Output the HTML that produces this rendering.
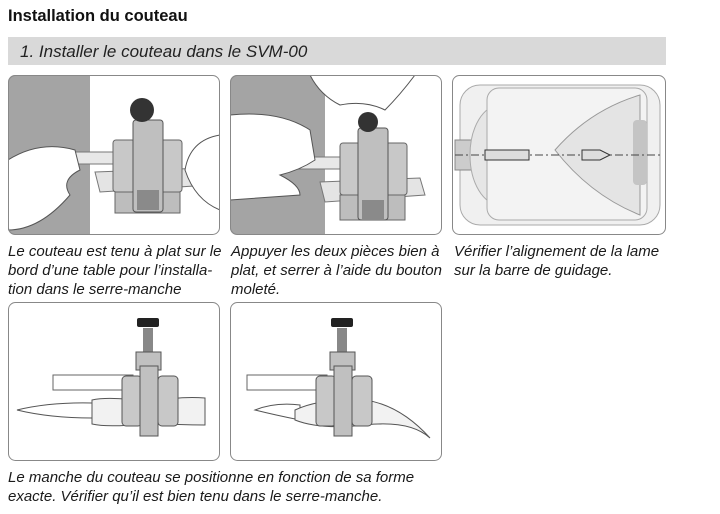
<!DOCTYPE html>
<html><head><meta charset="utf-8"><style>
html,body{margin:0;padding:0;background:#fff;width:720px;height:514px;overflow:hidden}
svg{display:block}
.t{font-family:"Liberation Sans",sans-serif}
.cap{font-family:"Liberation Sans",sans-serif;font-style:italic;font-size:15px;fill:#1a1a1a}
</style></head><body>
<svg width="720" height="514" viewBox="0 0 720 514">
<text x="8" y="21" class="t" font-size="16.5" font-weight="bold" fill="#111">Installation du couteau</text>
<rect x="8" y="37" width="658" height="28" fill="#d9d9d9"/>
<text x="20" y="57" class="t" font-size="17" font-style="italic" fill="#222">1. Installer le couteau dans le SVM-00</text>

<clipPath id="c1"><rect x="8" y="75" width="212" height="160" rx="7"/></clipPath>
<g clip-path="url(#c1)">
<rect x="8" y="75" width="212" height="160" fill="#fff"/>
<rect x="8" y="75" width="82" height="160" fill="#a4a4a4"/>
<rect x="75" y="152" width="40" height="12" fill="#e8e8e8" stroke="#777"/>
<path d="M95 172 L205 168 L210 185 L100 192 Z" fill="#e4e4e4" stroke="#777"/>
<rect x="115" y="185" width="65" height="28" fill="#bdbdbd" stroke="#666"/>
<rect x="113" y="140" width="22" height="52" rx="3" fill="#c8c8c8" stroke="#666"/>
<rect x="160" y="140" width="22" height="52" rx="3" fill="#c8c8c8" stroke="#666"/>
<rect x="133" y="120" width="30" height="92" rx="3" fill="#bfbfbf" stroke="#555"/>
<rect x="137" y="190" width="22" height="20" fill="#8a8a8a"/>
<circle cx="142" cy="110" r="12" fill="#333"/>
<path d="M8 160 Q40 140 75 150 L80 170 Q60 180 70 195 Q40 230 8 230 Z" fill="#fff" stroke="#555"/>
<path d="M220 135 Q190 140 185 170 Q195 200 220 210 Z" fill="#fff" stroke="#555"/>
</g>
<rect x="8.5" y="75.5" width="211" height="159" rx="7" fill="none" stroke="#888"/>

<clipPath id="c2"><rect x="230" y="75" width="212" height="160" rx="7"/></clipPath>
<g clip-path="url(#c2)">
<rect x="230" y="75" width="212" height="160" fill="#fff"/>
<rect x="230" y="75" width="95" height="160" fill="#a4a4a4"/>
<rect x="290" y="157" width="60" height="12" fill="#e8e8e8" stroke="#777"/>
<path d="M320 182 L420 178 L425 195 L325 202 Z" fill="#e4e4e4" stroke="#777"/>
<rect x="340" y="195" width="65" height="25" fill="#bdbdbd" stroke="#666"/>
<rect x="340" y="143" width="22" height="52" rx="3" fill="#c8c8c8" stroke="#666"/>
<rect x="385" y="143" width="22" height="52" rx="3" fill="#c8c8c8" stroke="#666"/>
<rect x="358" y="128" width="30" height="92" rx="3" fill="#bfbfbf" stroke="#555"/>
<rect x="362" y="200" width="22" height="20" fill="#8a8a8a"/>
<circle cx="368" cy="122" r="10" fill="#333"/>
<path d="M230 115 Q280 110 310 130 L315 160 Q300 170 280 175 Q300 185 300 195 L230 200 Z" fill="#fff" stroke="#555"/>
<path d="M310 75 Q320 95 340 105 Q365 100 385 110 Q400 95 415 75 Z" fill="#fff" stroke="#555"/>
</g>
<rect x="230.5" y="75.5" width="211" height="159" rx="7" fill="none" stroke="#888"/>

<clipPath id="c3"><rect x="452" y="75" width="214" height="160" rx="7"/></clipPath>
<g clip-path="url(#c3)">
<rect x="452" y="75" width="214" height="160" fill="#fff"/>
<rect x="460" y="85" width="200" height="140" rx="20" fill="#f0f0f0" stroke="#aaa"/>
<rect x="455" y="140" width="20" height="30" fill="#ccc" stroke="#888"/>
<ellipse cx="500" cy="155" rx="30" ry="50" fill="#e6e6e6" stroke="#aaa"/>
<rect x="487" y="88" width="160" height="132" rx="12" fill="#f3f3f3" stroke="#aaa"/>
<path d="M640 95 Q590 110 555 150 Q590 195 640 215 Z" fill="#e4e4e4" stroke="#999"/>
<rect x="633" y="120" width="14" height="65" rx="4" fill="#c4c4c4"/>
<line x1="455" y1="155" x2="660" y2="155" stroke="#444" stroke-dasharray="8 3 2 3"/>
<rect x="485" y="150" width="44" height="10" fill="#ddd" stroke="#333"/>
<path d="M582 150 L600 150 L610 155 L600 160 L582 160 Z" fill="#ddd" stroke="#333"/>
</g>
<rect x="452.5" y="75.5" width="213" height="159" rx="7" fill="none" stroke="#888"/>

<text class="cap"><tspan x="8" y="256">Le couteau est tenu à plat sur le</tspan><tspan x="8" y="275">bord d’une table pour l’installa-</tspan><tspan x="8" y="294">tion dans le serre-manche</tspan></text>
<text class="cap"><tspan x="231" y="256">Appuyer les deux pièces bien à</tspan><tspan x="231" y="275">plat, et serrer à l’aide du bouton</tspan><tspan x="231" y="294">moleté.</tspan></text>
<text class="cap"><tspan x="454" y="256">Vérifier l’alignement de la lame</tspan><tspan x="454" y="275">sur la barre de guidage.</tspan></text>

<rect x="8.5" y="302.5" width="211" height="158" rx="7" fill="#fff" stroke="#888"/>
<rect x="53" y="375" width="80" height="15" fill="#fff" stroke="#666"/>
<path d="M17 410 Q50 402 92 403 L92 418 Q50 418 17 410 Z" fill="#fff" stroke="#555"/>
<path d="M92 400 Q110 396 150 402 Q180 396 205 398 L205 425 Q180 425 150 423 Q110 428 92 424 Z" fill="#f2f2f2" stroke="#555"/>
<rect x="122" y="376" width="20" height="50" rx="4" fill="#c8c8c8" stroke="#555"/>
<rect x="158" y="376" width="20" height="50" rx="4" fill="#c8c8c8" stroke="#555"/>
<rect x="143" y="328" width="10" height="28" fill="#888"/>
<rect x="136" y="352" width="25" height="18" fill="#c0c0c0" stroke="#555"/>
<rect x="140" y="366" width="18" height="70" fill="#c0c0c0" stroke="#555"/>
<rect x="137" y="318" width="22" height="9" rx="2" fill="#222"/>

<rect x="230.5" y="302.5" width="211" height="158" rx="7" fill="#fff" stroke="#888"/>
<rect x="247" y="375" width="80" height="15" fill="#fff" stroke="#666"/>
<path d="M255 410 Q275 402 300 405 L300 420 Q275 415 255 410 Z" fill="#fff" stroke="#555"/>
<path d="M295 410 Q320 398 365 400 Q400 405 430 438 Q410 420 365 425 Q320 430 295 420 Z" fill="#f2f2f2" stroke="#555"/>
<rect x="316" y="376" width="20" height="50" rx="4" fill="#c8c8c8" stroke="#555"/>
<rect x="352" y="376" width="20" height="50" rx="4" fill="#c8c8c8" stroke="#555"/>
<rect x="337" y="328" width="10" height="28" fill="#888"/>
<rect x="330" y="352" width="25" height="18" fill="#c0c0c0" stroke="#555"/>
<rect x="334" y="366" width="18" height="70" fill="#c0c0c0" stroke="#555"/>
<rect x="331" y="318" width="22" height="9" rx="2" fill="#222"/>

<text class="cap"><tspan x="8" y="482">Le manche du couteau se positionne en fonction de sa forme</tspan><tspan x="8" y="501">exacte. Vérifier qu’il est bien tenu dans le serre-manche.</tspan></text>
</svg>
</body></html>
